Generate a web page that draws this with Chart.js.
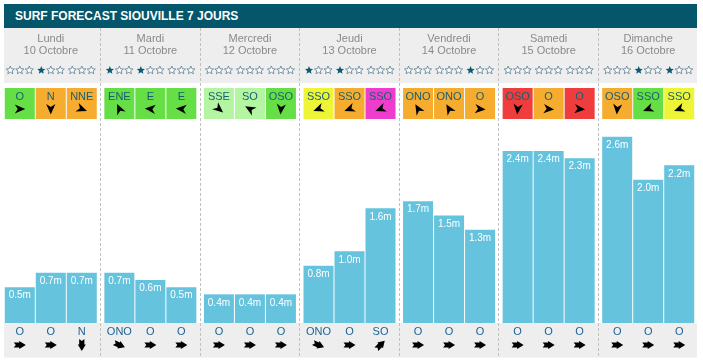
<!DOCTYPE html>
<html lang="fr">
<head>
  <meta charset="UTF-8">
  <title>Surf forecast Siouville</title>
  <script src="https://cdn.jsdelivr.net/npm/chart.js@4"></script>
  <style>
    body { margin: 0; background: #fff; font-family: 'Liberation Sans', Arial, sans-serif; }
    #titre {
      position: absolute; left: 4px; top: 4px; width: 682px; height: 24px;
      padding-left: 11px; line-height: 24px;
      background: #04566a; color: #fff; font-weight: bold; font-size: 12px;
    }
    #graph { position: absolute; left: 0; top: 0; display: block; }
  </style>
</head>
<body>
  <canvas id="graph" width="703" height="364"></canvas>
  <div id="titre">SURF FORECAST SIOUVILLE 7 JOURS</div>
  <script>
    // jours
    const jours = ['Lundi', 'Mardi', 'Mercredi', 'Jeudi', 'Vendredi', 'Samedi', 'Dimanche'];
    const dates = ['10 Octobre', '11 Octobre', '12 Octobre', '13 Octobre', '14 Octobre', '15 Octobre', '16 Octobre'];

    // hauteur des vagues (m), 3 creneaux par jour
    const hauteurMatin = [0.5, 0.7, 0.4, 0.8, 1.7, 2.4, 2.6];
    const hauteurMidi  = [0.7, 0.6, 0.4, 1.0, 1.5, 2.4, 2.0];
    const hauteurSoir  = [0.7, 0.5, 0.4, 1.6, 1.3, 2.3, 2.2];

    // etoiles (note sur 3)
    const etoilesMatin = [0, 1, 0, 1, 0, 0, 0];
    const etoilesMidi  = [1, 1, 0, 1, 0, 0, 1];
    const etoilesSoir  = [0, 0, 0, 0, 1, 0, 1];

    // vent : direction, qualite (1 a 6), orientation de la fleche
    const ventMatin = ['O', 'ENE', 'SSE', 'SSO', 'ONO', 'OSO', 'OSO'];
    const ventMidi  = ['N', 'E', 'SO', 'SSO', 'ONO', 'O', 'SSO'];
    const ventSoir  = ['NNE', 'E', 'OSO', 'SSO', 'O', 'O', 'SSO'];
    const qualiteMatin = [2, 2, 1, 3, 4, 5, 4];
    const qualiteMidi  = [4, 2, 1, 4, 4, 4, 2];
    const qualiteSoir  = [4, 2, 2, 6, 4, 5, 3];
    const flecheMatin = [0, -115, 40, 160, -120, 95, 95];
    const flecheMidi  = [90, 185, -150, 160, -120, 5, 160];
    const flecheSoir  = [20, 185, 95, 160, 5, 5, 160];

    // houle : direction
    const houleMatin = ['O', 'ONO', 'O', 'ONO', 'O', 'O', 'O'];
    const houleMidi  = ['O', 'O', 'O', 'O', 'O', 'O', 'O'];
    const houleSoir  = ['N', 'O', 'O', 'SO', 'O', 'O', 'O'];

    const couleursVent = { 1: '#b3f5a0', 2: '#66de46', 3: '#edf536', 4: '#f6ac2f', 5: '#ef3c3c', 6: '#ee3dcc' };
    const caps = { N: 0, NNE: 22.5, NE: 45, ENE: 67.5, E: 90, ESE: 112.5, SE: 135, SSE: 157.5,
                   S: 180, SSO: 202.5, SO: 225, OSO: 247.5, O: 270, ONO: 292.5, NO: 315, NNO: 337.5 };

    const creneaux = [
      { h: hauteurMatin, et: etoilesMatin, vent: ventMatin, q: qualiteMatin, f: flecheMatin, houle: houleMatin },
      { h: hauteurMidi,  et: etoilesMidi,  vent: ventMidi,  q: qualiteMidi,  f: flecheMidi,  houle: houleMidi },
      { h: hauteurSoir,  et: etoilesSoir,  vent: ventSoir,  q: qualiteSoir,  f: flecheSoir,  houle: houleSoir }
    ];

    const police = "'Liberation Sans', Arial, sans-serif";
    const flecheVent = [[5.5, 0], [-5, -4.6], [-2, 0], [-5, 4.6]];
    const flecheHoule = [[-6, -2.6], [-0.5, -2.6], [-0.5, -4], [6, 0], [-0.5, 4], [-0.5, 2.6], [-6, 2.6], [-4, 0]];

    function fleche(ctx, x, y, angle, pts) {
      ctx.save();
      ctx.translate(x, y);
      ctx.rotate(angle * Math.PI / 180);
      ctx.beginPath();
      pts.forEach(([px, py], i) => i ? ctx.lineTo(px, py) : ctx.moveTo(px, py));
      ctx.closePath();
      ctx.fillStyle = '#000';
      ctx.fill();
      ctx.restore();
    }

    function etoile(ctx, x, y, pleine) {
      const R = 4.3, r = 1.9;
      ctx.beginPath();
      for (let k = 0; k < 10; k++) {
        const a = -Math.PI / 2 + k * Math.PI / 5;
        const rr = k % 2 ? r : R;
        const px = x + rr * Math.cos(a), py = y + rr * Math.sin(a);
        k ? ctx.lineTo(px, py) : ctx.moveTo(px, py);
      }
      ctx.closePath();
      if (pleine) {
        ctx.fillStyle = '#0c5b73';
        ctx.fill();
      } else {
        ctx.fillStyle = '#fff';
        ctx.fill();
        ctx.strokeStyle = '#5b7d91';
        ctx.lineWidth = 0.8;
        ctx.stroke();
      }
    }

    const prevision = {
      id: 'prevision',
      beforeDatasetsDraw(chart) {
        const { ctx, chartArea, scales: { x } } = chart;
        const g = chartArea.left + 3, d = chartArea.right - 1;
        ctx.save();
        ctx.fillStyle = '#eeeeee';
        ctx.fillRect(g, 28, d - g, 55);
        ctx.fillRect(g, chartArea.bottom, d - g, 34.5);
        // separateurs des jours
        ctx.strokeStyle = '#c0c0c0';
        ctx.lineWidth = 1;
        ctx.setLineDash([3, 2]);
        for (let i = 1; i < jours.length; i++) {
          const sx = Math.floor((x.getPixelForValue(i - 1) + x.getPixelForValue(i)) / 2) + 0.5;
          ctx.beginPath();
          ctx.moveTo(sx, 28);
          ctx.lineTo(sx, chartArea.bottom + 34.5);
          ctx.stroke();
        }
        ctx.restore();
      },
      afterDatasetsDraw(chart) {
        const { ctx, chartArea, scales: { x } } = chart;
        ctx.save();
        ctx.textAlign = 'center';
        ctx.textBaseline = 'middle';

        // jours et dates
        ctx.fillStyle = '#8a8a8a';
        ctx.font = '11px ' + police;
        jours.forEach((j, i) => {
          const cx = x.getPixelForValue(i);
          ctx.fillText(j, cx, 39);
          ctx.fillText(dates[i], cx, 51);
        });

        creneaux.forEach((c, ds) => {
          const meta = chart.getDatasetMeta(ds);
          meta.data.forEach((bar, i) => {
            const bx = bar.x, w = bar.width, gx = bx - w / 2;

            // valeur sur la barre
            ctx.fillStyle = '#fff';
            ctx.font = '10px ' + police;
            ctx.fillText(c.h[i].toFixed(1) + 'm', bx, bar.y + 8.5);

            // etoiles
            for (let k = 0; k < 3; k++) etoile(ctx, bx + (k - 1) * 9.5, 70.3, k < c.et[i]);

            // vent
            ctx.fillStyle = couleursVent[c.q[i]];
            ctx.fillRect(gx, 88, w, 31);
            ctx.fillStyle = '#185f72';
            ctx.font = '11px ' + police;
            ctx.fillText(c.vent[i], bx, 96.5);
            fleche(ctx, bx, 109, c.f[i], flecheVent);

            // houle
            ctx.fillStyle = '#1b6396';
            ctx.fillText(c.houle[i], bx, chartArea.bottom + 8.5);
            fleche(ctx, bx, chartArea.bottom + 22, caps[c.houle[i]] + 90, flecheHoule);
          });
        });
        ctx.restore();
      }
    };

    new Chart(document.getElementById('graph'), {
      type: 'bar',
      data: {
        labels: jours.map((j, i) => [j, dates[i]]),
        datasets: creneaux.map(c => ({
          data: c.h,
          backgroundColor: '#65c3de',
          borderWidth: 0,
          categoryPercentage: 0.934,
          barPercentage: 0.968
        }))
      },
      options: {
        responsive: false,
        animation: false,
        layout: { padding: { left: 1, right: 5, top: 108, bottom: 41 } },
        plugins: { legend: { display: false }, tooltip: { enabled: false }, title: { display: false } },
        scales: {
          x: { display: false },
          y: { display: false, min: 0, max: 3 }
        }
      },
      plugins: [prevision]
    });
  </script>
</body>
</html>
